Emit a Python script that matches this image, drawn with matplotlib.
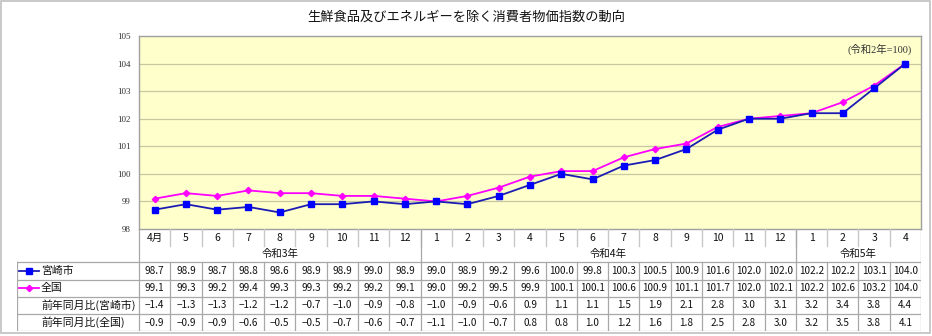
import matplotlib
matplotlib.use("Agg")
import matplotlib.pyplot as plt
from matplotlib.lines import Line2D
from matplotlib.patches import Rectangle

plt.rcParams['font.family'] = ['Noto Sans CJK JP', 'DejaVu Sans']

# ---- data ----
months = ["4月", "5", "6", "7", "8", "9", "10", "11", "12",
          "1", "2", "3", "4", "5", "6", "7", "8", "9", "10", "11", "12",
          "1", "2", "3", "4"]
years = [("令和3年", 0, 8), ("令和4年", 9, 20), ("令和5年", 21, 24)]
miyazaki = [98.7, 98.9, 98.7, 98.8, 98.6, 98.9, 98.9, 99.0, 98.9,
            99.0, 98.9, 99.2, 99.6, 100.0, 99.8, 100.3, 100.5, 100.9, 101.6, 102.0, 102.0,
            102.2, 102.2, 103.1, 104.0]
zenkoku = [99.1, 99.3, 99.2, 99.4, 99.3, 99.3, 99.2, 99.2, 99.1,
           99.0, 99.2, 99.5, 99.9, 100.1, 100.1, 100.6, 100.9, 101.1, 101.7, 102.0, 102.1,
           102.2, 102.6, 103.2, 104.0]
yoy_miyazaki = [-1.4, -1.3, -1.3, -1.2, -1.2, -0.7, -1.0, -0.9, -0.8,
                -1.0, -0.9, -0.6, 0.9, 1.1, 1.1, 1.5, 1.9, 2.1, 2.8, 3.0, 3.1,
                3.2, 3.4, 3.8, 4.4]
yoy_zenkoku = [-0.9, -0.9, -0.9, -0.6, -0.5, -0.5, -0.7, -0.6, -0.7,
               -1.1, -1.0, -0.7, 0.8, 0.8, 1.0, 1.2, 1.6, 1.8, 2.5, 2.8, 3.0,
               3.2, 3.5, 3.8, 4.1]
row_labels = ["宮崎市", "全国", "前年同月比(宮崎市)", "前年同月比(全国)"]
yticks = [98, 99, 100, 101, 102, 103, 104, 105]

BLUE_LINE = "#1c1cb4"
BLUE_MARK = "#0000ff"
MAGENTA = "#ff00ff"
W, H = 932, 336

fig = plt.figure(figsize=(W / 100, H / 100), dpi=100)
fig.patch.set_facecolor("white")

# outer frame
fig.add_artist(Rectangle((0.5 / W, 1 - 333 / H), 929.5 / W, 332.5 / H,
                         transform=fig.transFigure, fill=False,
                         edgecolor="#c0c0c0", linewidth=1.2))

fig.text(466 / W, 1 - 17 / H, "生鮮食品及びエネルギーを除く消費者物価指数の動向",
         ha="center", va="center", fontsize=9.5, color="#111111")

# ---- chart ----
px_l, px_r, px_t, px_b = 139, 921, 36, 229
ax = fig.add_axes([px_l / W, 1 - px_b / H, (px_r - px_l) / W, (px_b - px_t) / H])
ax.set_facecolor("#ffffcc")
n = len(months)
x = list(range(n))
ax.set_xlim(-0.5, n - 0.5)
ax.set_ylim(yticks[0], yticks[-1])
ax.set_yticks(yticks)
ax.set_yticklabels([str(v) for v in yticks], fontsize=6.5,
                   family=['Liberation Serif', 'DejaVu Serif'], color="#333333")
ax.tick_params(axis="y", length=0, pad=6)
ax.set_xticks([])
for v in yticks[1:-1]:
    ax.axhline(v, color="#c8c8a0", linewidth=0.9, zorder=1)
for s in ax.spines.values():
    s.set_color("#a0a0a0")
    s.set_linewidth(1.0)

ax.plot(x, zenkoku, color=MAGENTA, linewidth=1.3, marker="D", markersize=3.2,
        markerfacecolor=MAGENTA, markeredgecolor=MAGENTA, zorder=3)
ax.plot(x, miyazaki, color=BLUE_LINE, linewidth=1.3, marker="s", markersize=4.5,
        markerfacecolor=BLUE_MARK, markeredgecolor=BLUE_MARK, zorder=4)

ax.text(0.988, 0.93, "(令和2年=100)", transform=ax.transAxes, ha="right", va="center",
        fontsize=7.5, family=['Liberation Serif', 'Noto Sans CJK JP'], color="#333333")

# ---- data table below the chart ----
tab_l, tab_b = 17, 331
col_w = (px_r - px_l) / n
x0 = -0.5 - (px_l - tab_l) / col_w
tab = fig.add_axes([tab_l / W, 1 - tab_b / H, (px_r - tab_l) / W, (tab_b - px_b) / H])
tab.set_xlim(x0, n - 0.5)
tab.set_ylim(tab_b, px_b)
tab.axis("off")

GRID = "#a8a8a8"
LIGHT = "#c8c8c8"
month_bot = 246
year_bot = 262
row_edges = [262, 279.5, 297, 314, 331]

# month row
for i, m in enumerate(months):
    tab.text(i, 238, m, ha="center", va="center", fontsize=7.5, color="#111111")
    if i > 0:
        tab.plot([i - 0.5, i - 0.5], [px_b, month_bot], color=LIGHT, linewidth=1.0)
# year row
for label, a, b in years:
    tab.text((a + b) / 2, 254, label, ha="center", va="center", fontsize=7.5, color="#111111")
for label, a, b in years[1:]:
    tab.plot([a - 0.5, a - 0.5], [px_b, year_bot], color=GRID, linewidth=0.9)

# data rows
rows = [miyazaki, zenkoku, yoy_miyazaki, yoy_zenkoku]
for y in row_edges:
    tab.plot([x0, n - 0.5], [y, y], color=GRID, linewidth=0.9)
tab.plot([x0, x0], [row_edges[0], row_edges[-1]], color=GRID, linewidth=0.9)
tab.plot([-0.5, -0.5], [px_b, row_edges[-1]], color=GRID, linewidth=0.9)
tab.plot([n - 0.5, n - 0.5], [px_b, row_edges[-1]], color=GRID, linewidth=0.9)
for i in range(1, n):
    tab.plot([i - 0.5, i - 0.5], [row_edges[0], row_edges[-1]], color=GRID, linewidth=0.9)


def fmt(v):
    s = f"{abs(v):.1f}"
    return ("\u2212" + s) if v < 0 else s


label_x = x0 + (41 - tab_l) / col_w
for r, (vals, lab) in enumerate(zip(rows, row_labels)):
    yc = (row_edges[r] + row_edges[r + 1]) / 2
    for i, v in enumerate(vals):
        tab.text(i, yc, fmt(v), ha="center", va="center", fontsize=7.2, color="#111111")
    tab.text(label_x, yc, lab, ha="left", va="center", fontsize=7.8, color="#111111")

# legend keys beside the series rows
lx0 = x0 + (19 - tab_l) / col_w
lx1 = x0 + (39 - tab_l) / col_w
lxm = (lx0 + lx1) / 2
yc0 = (row_edges[0] + row_edges[1]) / 2
yc1 = (row_edges[1] + row_edges[2]) / 2
tab.add_line(Line2D([lx0, lx1], [yc0, yc0], color=BLUE_LINE, linewidth=1.3))
tab.plot([lxm], [yc0], marker="s", markersize=4.5, color=BLUE_MARK)
tab.add_line(Line2D([lx0, lx1], [yc1, yc1], color=MAGENTA, linewidth=1.3))
tab.plot([lxm], [yc1], marker="D", markersize=3.2, color=MAGENTA)

fig.savefig("out.png", dpi=100, facecolor="white")
